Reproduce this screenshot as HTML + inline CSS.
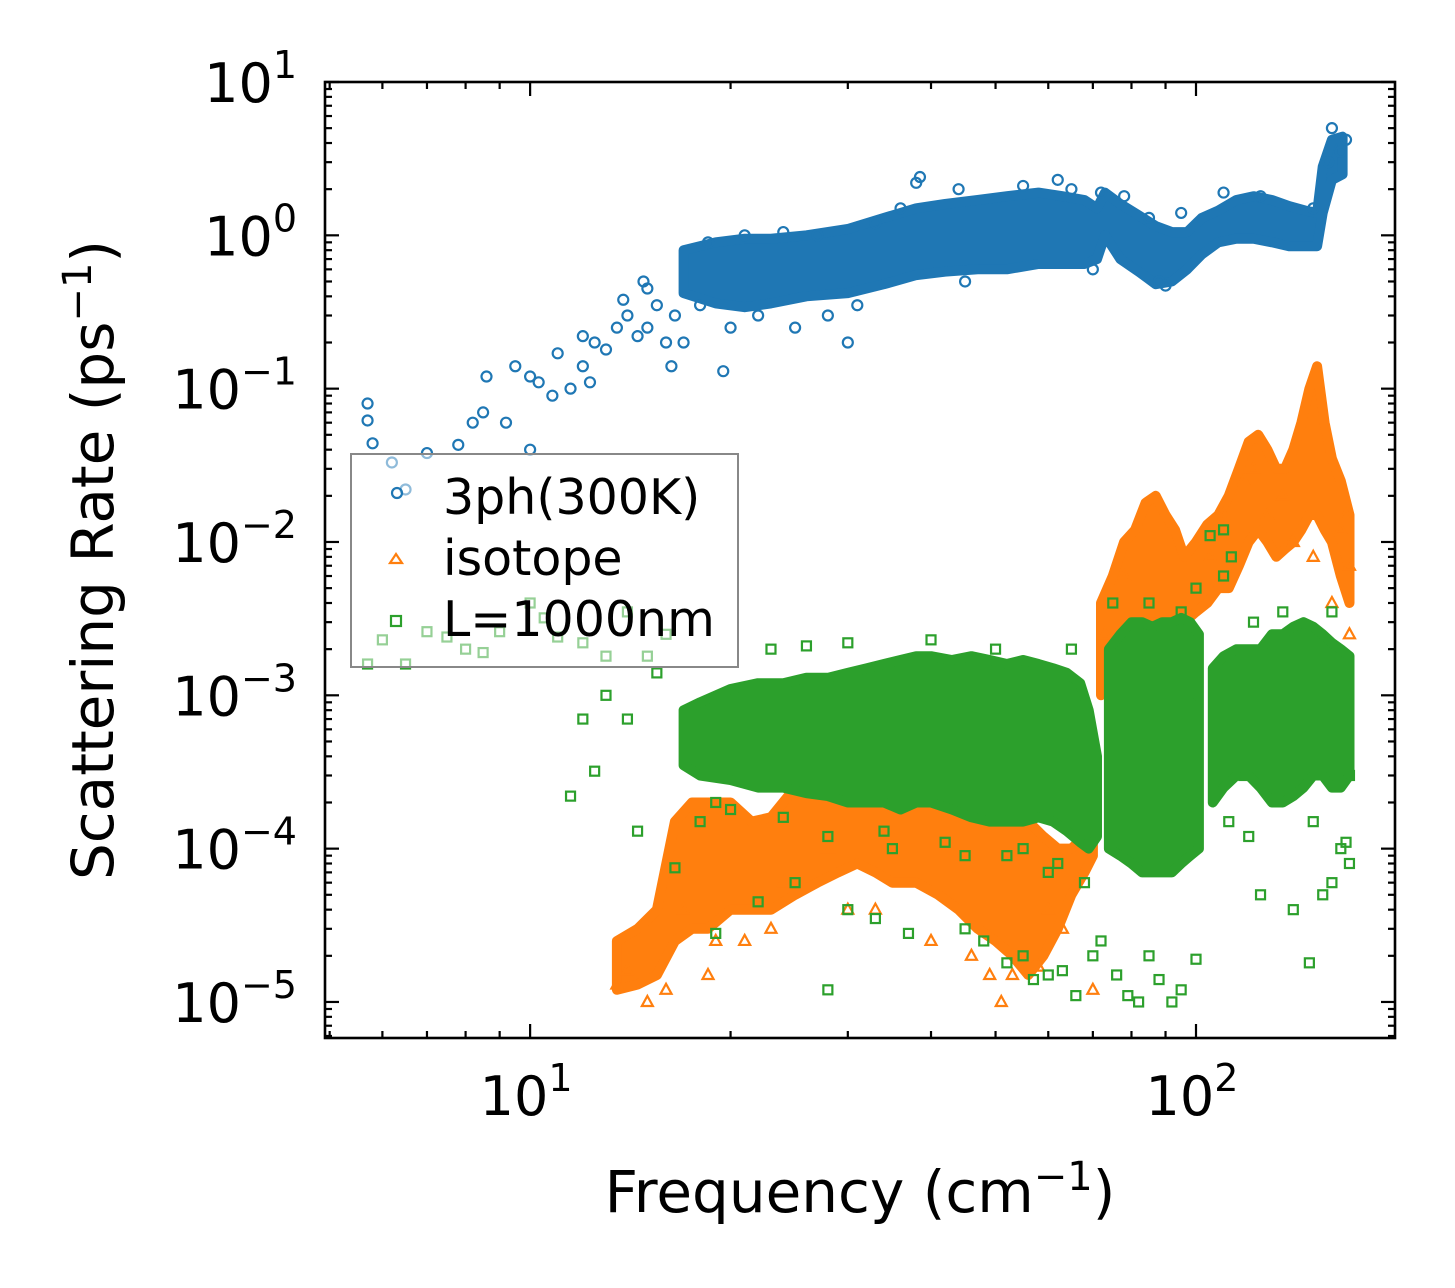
<!DOCTYPE html>
<html><head><meta charset="utf-8"><style>
body{margin:0;background:#fff}
svg{display:block;font-family:"DejaVu Sans","Liberation Sans",sans-serif}
</style></head><body>
<svg id="chart" width="1455" height="1288" viewBox="0 0 1455 1288" xmlns="http://www.w3.org/2000/svg">
<rect width="1455" height="1288" fill="#fff"/>
<g id="marks"></g>
<g id="axes"></g>
</svg>
<script>
// ---- data ----
const blueBandX  =[17,19,21,23,26,30,34,38,42,47,52,58,63,68,71,73,77,82,87,92,97,102,108,115,122,130,138,146,152,155,160,166];
const blueBandLo =[0.42,0.36,0.34,0.36,0.4,0.42,0.48,0.55,0.58,0.6,0.6,0.65,0.65,0.65,0.7,1.0,0.7,0.58,0.48,0.5,0.6,0.75,0.9,0.95,0.95,0.9,0.85,0.85,0.85,1.4,2.3,2.5];
const blueBandHi =[0.8,0.9,0.95,0.95,1.0,1.1,1.3,1.5,1.6,1.7,1.8,1.9,1.8,1.7,1.5,1.9,1.6,1.35,1.15,1.05,1.05,1.3,1.45,1.7,1.8,1.7,1.55,1.45,1.4,2.8,4.2,4.4];
const blueX=[5.7,5.7,5.8,6.2,6.5,7,7.8,8.2,8.5,8.6,9.2,9.5,10,10,10.3,10.8,11,11.5,12,12,12.3,12.5,13,13.5,13.8,14,14.5,14.8,15,15,15.5,16,16.3,16.5,17,18,19.5,20,22,25,28,30,31,38,38.5,45,62,65,70,88,90,160,165,18.5,21,24,27,33,36,44,55,72,78,85,95,110,125,150,158,168];
const blueY=[0.08,0.062,0.044,0.033,0.022,0.038,0.043,0.06,0.07,0.12,0.06,0.14,0.12,0.04,0.11,0.09,0.17,0.1,0.22,0.14,0.11,0.2,0.18,0.25,0.38,0.3,0.22,0.5,0.45,0.25,0.35,0.2,0.14,0.3,0.2,0.35,0.13,0.25,0.3,0.25,0.3,0.2,0.35,2.2,2.4,0.5,2.3,2.0,0.6,0.5,0.47,5.0,3.5,0.9,1.0,1.05,1.0,1.2,1.5,2.0,2.1,1.9,1.8,1.3,1.4,1.9,1.8,1.5,3.0,4.2];

const orBandX =[13.5,14.5,15.5,16.5,17.5,18.5,20,21.5,23,25,27,29,31,33,35,38,41,44,47,50,53,56,59,62,65,68,70];
const orBandLo=[1.2e-5,1.3e-5,1.5e-5,2.5e-5,3e-5,3e-5,4e-5,4e-5,4e-5,5e-5,6e-5,7e-5,8e-5,7e-5,6e-5,6e-5,5e-5,4e-5,3e-5,2.5e-5,2e-5,1.5e-5,2e-5,3e-5,5e-5,7e-5,9e-5];
const orBandHi=[2.5e-5,3e-5,4e-5,1.5e-4,2e-4,2e-4,2e-4,1.5e-4,1.6e-4,2.5e-4,2.5e-4,3e-4,3e-4,2.5e-4,2.5e-4,2e-4,2e-4,2.5e-4,2.5e-4,2e-4,1.8e-4,1.5e-4,1.2e-4,1e-4,1e-4,1.2e-4,1.5e-4];
const orBand2X =[72,75,78,81,84,87,90,93,96,100,104,108,112,116,120,124,128,132,136,140,144,148,152,156,160,165,170];
const orBand2Lo=[1e-3,1.2e-3,1.5e-3,2e-3,3e-3,3e-3,3e-3,3e-3,3e-3,3.5e-3,4e-3,5e-3,5e-3,7e-3,1e-2,1.2e-2,1e-2,8e-3,9e-3,1e-2,1.2e-2,1.5e-2,1.5e-2,1.2e-2,1e-2,6e-3,4e-3];
const orBand2Hi=[4e-3,6e-3,1e-2,1.2e-2,1.8e-2,2e-2,1.5e-2,1.2e-2,8e-3,1e-2,1.3e-2,1.5e-2,2e-2,3e-2,4.5e-2,5e-2,4e-2,3e-2,3e-2,4e-2,6e-2,1e-1,1.4e-1,6e-2,3.5e-2,2.5e-2,1.5e-2];
const orX=[13.5,14,15,16,17,18.5,19,21,23,24,28,30,33,40,46,49,51,53,58,60,63,70,73,75,78,85,88,95,100,105,110,118,122,128,135,140,150,160,165,170,170,168];
const orY=[1.3e-5,1.6e-5,1e-5,1.2e-5,4e-5,1.5e-5,2.5e-5,2.5e-5,3e-5,6e-5,1e-4,4e-5,4e-5,2.5e-5,2e-5,1.5e-5,1e-5,1.5e-5,1.7e-5,4e-5,3e-5,1.2e-5,2.5e-3,1.4e-3,6e-3,2.5e-3,1.4e-3,1.2e-3,1.5e-3,8e-3,1.5e-2,2.5e-2,3e-2,1.5e-2,2e-2,1e-2,8e-3,4e-3,1.2e-2,2.5e-3,7e-3,1.5e-2];

const grBandX =[17,18,20,22,24,26,28,30,32,34,36,38,40,43,46,49,52,55,58,61,64,67,69,71];
const grBandLo=[3.5e-4,3e-4,2.8e-4,2.5e-4,2.5e-4,2.3e-4,2.2e-4,2e-4,2e-4,2e-4,1.8e-4,2e-4,2e-4,1.8e-4,1.6e-4,1.5e-4,1.5e-4,1.5e-4,1.6e-4,1.5e-4,1.3e-4,1.1e-4,1e-4,1.2e-4];
const grBandHi=[8e-4,9e-4,1.1e-3,1.2e-3,1.2e-3,1.3e-3,1.3e-3,1.4e-3,1.5e-3,1.6e-3,1.7e-3,1.8e-3,1.8e-3,1.7e-3,1.8e-3,1.7e-3,1.6e-3,1.7e-3,1.6e-3,1.5e-3,1.4e-3,1.2e-3,8e-4,4e-4];
const grBand2X =[74,77,80,83,86,89,92,95,98,101];
const grBand2Lo=[1e-4,9e-5,8e-5,7e-5,7e-5,7e-5,7e-5,8e-5,9e-5,1e-4];
const grBand2Hi=[2e-3,2.5e-3,3e-3,3e-3,2.8e-3,3e-3,3e-3,3.2e-3,3e-3,2.5e-3];
const grBand3X =[106,110,115,120,125,130,135,140,145,150,155,160,165,170];
const grBand3Lo=[2e-4,2.5e-4,3e-4,3e-4,2.5e-4,2e-4,2e-4,2.2e-4,2.5e-4,3e-4,3e-4,2.5e-4,2.5e-4,3e-4];
const grBand3Hi=[1.5e-3,1.8e-3,2e-3,2e-3,2e-3,2.5e-3,2.5e-3,2.8e-3,3e-3,2.8e-3,2.5e-3,2.2e-3,2e-3,1.8e-3];
const grX=[5.7,6,6.5,7,7.5,8,8.5,9,10,10.5,11,12,13,14,15,15.5,16,14,13,12,11.5,12.5,14.5,16.5,19,22,25,28,30,33,37,45,48,52,55,57,60,63,66,70,72,76,79,82,85,88,92,95,100,105,110,113,118,120,125,140,148,155,160,165,168,170,170,100,98,110,18,20,23,26,30,35,40,45,50,55,60,65,19,24,28,34,42,52,62,68,75,85,95,112,122,135,150,160];
const grY=[1.6e-3,2.3e-3,1.6e-3,2.6e-3,2.4e-3,2e-3,1.9e-3,2.6e-3,4e-3,3.2e-3,2.4e-3,2.2e-3,1.8e-3,3.5e-3,1.8e-3,1.4e-3,2.5e-3,7e-4,1e-3,7e-4,2.2e-4,3.2e-4,1.3e-4,7.5e-5,2.8e-5,4.5e-5,6e-5,1.2e-5,4e-5,3.5e-5,2.8e-5,3e-5,2.5e-5,1.8e-5,2e-5,1.4e-5,1.5e-5,1.6e-5,1.1e-5,2e-5,2.5e-5,1.5e-5,1.1e-5,1e-5,2e-5,1.4e-5,1e-5,1.2e-5,1.9e-5,1.1e-2,6e-3,8e-3,3e-4,1.2e-4,5e-5,4e-5,1.8e-5,5e-5,6e-5,1e-4,1.1e-4,8e-5,3e-4,5e-3,1e-3,1.2e-2,
 1.5e-4,1.8e-4,2e-3,2.1e-3,2.2e-3,1e-4,2.3e-3,9e-5,2e-3,1e-4,7e-5,2e-3,2e-4,1.6e-4,1.2e-4,1.3e-4,1.1e-4,9e-5,8e-5,6e-5,4e-3,4e-3,3.5e-3,1.5e-4,3e-3,3.5e-3,1.5e-4,3.5e-3];

// ---- axes ----
const L=325,R=1395,T=82,B=1038;
const xMinLog=Math.log10(4.92), xMaxLog=Math.log10(199);
const yMinLog=-5.235, yMaxLog=1;
const xs=v=>L+(Math.log10(v)-xMinLog)/(xMaxLog-xMinLog)*(R-L);
const ys=v=>B-(Math.log10(v)-yMinLog)/(yMaxLog-yMinLog)*(B-T);
const NS="http://www.w3.org/2000/svg";
const marks=document.getElementById('marks'), axes=document.getElementById('axes');
function mk(tag,attrs,parent){const e=document.createElementNS(NS,tag);for(const k in attrs)e.setAttribute(k,attrs[k]);parent.appendChild(e);return e;}

const C={b:'#1f77b4',o:'#ff7f0e',g:'#2ca02c'};
function band(X,Lo,Hi,col,name){
  let d='M'+X.map((x,i)=>xs(x).toFixed(1)+','+ys(Hi[i]).toFixed(1)).join('L');
  for(let i=X.length-1;i>=0;i--)d+='L'+xs(X[i]).toFixed(1)+','+ys(Lo[i]).toFixed(1);
  const p=mk('path',{d:d+'Z',fill:col,stroke:col,'stroke-width':10,'stroke-linejoin':'round'},marks);
  
  
}
function circ(X,Y){X.forEach((x,i)=>{const c=mk('circle',{cx:xs(x),cy:ys(Y[i]),r:5,fill:'none',stroke:C.b,'stroke-width':2.2},marks);
  
  });}
function tri(X,Y){X.forEach((x,i)=>{const cx=xs(x),cy=ys(Y[i]);const t=mk('path',{d:`M${cx},${cy-6}L${cx+5.5},${cy+4}L${cx-5.5},${cy+4}Z`,fill:'none',stroke:C.o,'stroke-width':2.2},marks);
  
  });}
function sq(X,Y){X.forEach((x,i)=>{const s=mk('rect',{x:xs(x)-4.5,y:ys(Y[i])-4.5,width:9,height:9,fill:'none',stroke:C.g,'stroke-width':2.2},marks);
  
  });}

band(blueBandX,blueBandLo,blueBandHi,C.b,'band-3ph');
circ(blueX,blueY);
band(orBandX,orBandLo,orBandHi,C.o,'band-isotope-low');
band(orBand2X,orBand2Lo,orBand2Hi,C.o,'band-isotope-high');
tri(orX,orY);
band(grBandX,grBandLo,grBandHi,C.g,'band-boundary-1');
band(grBand2X,grBand2Lo,grBand2Hi,C.g,'band-boundary-2');
band(grBand3X,grBand3Lo,grBand3Hi,C.g,'band-boundary-3');
sq(grX,grY);

// frame
mk('rect',{x:L,y:T,width:R-L,height:B-T,fill:'none',stroke:'#000','stroke-width':2.6},axes);
function tk(x1,y1,x2,y2){mk('line',{x1,y1,x2,y2,stroke:'#000','stroke-width':2.2},axes);}
const xMajor=[10,100], yMajorExp=[1,0,-1,-2,-3,-4,-5];
for(let d=0;d<3;d++)for(let m=1;m<10;m++){const v=m*Math.pow(10,d);const lv=Math.log10(v);if(lv<xMinLog||lv>xMaxLog)continue;
  const x=xs(v),len=m===1?14:7;tk(x,B,x,B-len);tk(x,T,x,T+len);}
for(let e=-6;e<=1;e++)for(let m=1;m<10;m++){const v=m*Math.pow(10,e);const lv=Math.log10(v);if(lv<yMinLog-1e-9||lv>yMaxLog+1e-9)continue;
  const y=ys(v),len=m===1?14:7;tk(L,y,L+len,y);tk(R,y,R-len,y);}
xMajor.forEach(v=>{const t=mk('text',{x:xs(v)-4,y:1115,'font-size':54,'text-anchor':'middle'},axes);
  
  t.innerHTML=`10<tspan dy="-24" font-size="38">${Math.log10(v)}</tspan>`;});
yMajorExp.forEach(e=>{const t=mk('text',{x:L-28,y:ys(Math.pow(10,e))+20,'font-size':54,'text-anchor':'end'},axes);
  
  const s=e<0?'\u2212'+(-e):''+e;
  t.innerHTML=`10<tspan dy="-24" font-size="38">${s}</tspan>`;});
const xt=mk('text',{x:860,y:1212,'font-size':58,'text-anchor':'middle'},axes);
xt.innerHTML='Frequency (cm<tspan dy="-22" font-size="40">\u22121</tspan><tspan dy="22">)</tspan>';
const yt=mk('text',{x:0,y:0,'font-size':58,'text-anchor':'middle',transform:'translate(113,560) rotate(-90)'},axes);
yt.innerHTML='Scattering Rate (ps<tspan dy="-22" font-size="40">\u22121</tspan><tspan dy="22">)</tspan>';
// legend
const lg=mk('g',{},axes);
mk('rect',{x:351,y:454,width:387,height:213,fill:'rgba(255,255,255,0.5)',stroke:'#888','stroke-width':2},lg);
mk('circle',{cx:397,cy:493,r:5,fill:'none',stroke:C.b,'stroke-width':2.2},lg);
mk('path',{d:'M396,554L402,563L390,563Z',fill:'none',stroke:C.o,'stroke-width':2.2},lg);
mk('rect',{x:391,y:616,width:10,height:10,fill:'none',stroke:C.g,'stroke-width':2.2},lg);
[['3ph(300K)',514],['isotope',575],['L=1000nm',636]].forEach(([s,y])=>{const t=mk('text',{x:443,y:y,'font-size':49},lg);t.textContent=s;
  });
</script>
</body></html>
